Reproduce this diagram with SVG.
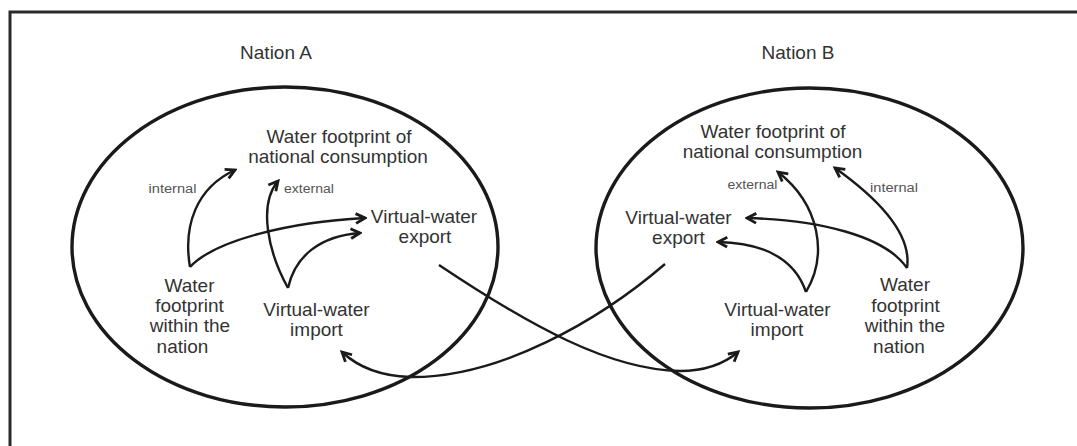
<svg xmlns="http://www.w3.org/2000/svg" width="1077" height="446" viewBox="0 0 1077 446">
<style>
  .t { font-family: "Liberation Sans", Arial, sans-serif; font-size: 19px; fill: #333; text-anchor: middle; }
  .s { font-family: "Liberation Sans", Arial, sans-serif; font-size: 12px; fill: #555; text-anchor: middle; }
  .nation { fill: none; stroke: #1a1a1a; stroke-width: 3.4; }
  .c { fill: none; stroke: #1a1a1a; stroke-width: 2.4; marker-end: url(#arr); }
</style>
<defs>
  <marker id="arr" viewBox="0 0 12 12" refX="10" refY="6" markerWidth="13" markerHeight="13" markerUnits="userSpaceOnUse" orient="auto">
    <path d="M1.5,1.5 L10,6 L1.5,10.5" fill="none" stroke="#1a1a1a" stroke-width="2.6" stroke-linejoin="miter"/>
  </marker>
</defs>
<rect width="1077" height="446" fill="#fff"/>
<path d="M10,446 L10,12 L1077,12" fill="none" stroke="#2a2a2a" stroke-width="3"/>

<g id="nation-a">
  <ellipse class="nation" cx="285" cy="247" rx="213" ry="160"/>
  <text class="t" x="276" y="59">Nation A</text>
</g>
<g id="nation-b">
  <ellipse class="nation" cx="809.5" cy="248" rx="213.5" ry="160"/>
  <text class="t" x="798" y="59">Nation B</text>
</g>

<g id="a-consumption"><text class="t" x="339" y="142.5">Water footprint of</text><text class="t" x="338" y="162.5">national consumption</text></g>
<g id="a-export"><text class="t" x="424" y="223">Virtual-water</text><text class="t" x="425" y="243">export</text></g>
<g id="a-within"><text class="t" x="189.5" y="291.5">Water</text><text class="t" x="189.5" y="311.5">footprint</text><text class="t" x="190" y="332">within the</text><text class="t" x="182.5" y="352.5">nation</text></g>
<g id="a-import"><text class="t" x="316.5" y="315.5">Virtual-water</text><text class="t" x="316.5" y="335.5">import</text></g>

<g id="b-consumption"><text class="t" x="773" y="138">Water footprint of</text><text class="t" x="772.5" y="158">national consumption</text></g>
<g id="b-export"><text class="t" x="678.5" y="223.5">Virtual-water</text><text class="t" x="678.5" y="243.5">export</text></g>
<g id="b-within"><text class="t" x="905" y="291">Water</text><text class="t" x="905.5" y="311.5">footprint</text><text class="t" x="905" y="332">within the</text><text class="t" x="899" y="352.5">nation</text></g>
<g id="b-import"><text class="t" x="777.5" y="315.5">Virtual-water</text><text class="t" x="777" y="335.5">import</text></g>

<g id="connectors">
  <!-- Nation A -->
  <path class="c" d="M190,267 C183,226 196,188 235,170"/>
  <path class="c" d="M190,267 C215,240 290,222 365,218"/>
  <path class="c" d="M288,288 C268,252 258,205 278,181"/>
  <path class="c" d="M288,288 C295,256 320,236 360,233"/>
  <text class="s" x="172.5" y="193" textLength="48" lengthAdjust="spacingAndGlyphs">internal</text>
  <text class="s" x="309" y="193" textLength="50" lengthAdjust="spacingAndGlyphs">external</text>
  <!-- Nation B -->
  <path class="c" d="M907,268 C912,235 880,200 835,168"/>
  <path class="c" d="M907,268 C885,236 820,220 747,218"/>
  <path class="c" d="M806,292 C828,255 820,205 778,172"/>
  <path class="c" d="M806,292 C795,260 765,243 718,242"/>
  <text class="s" x="752.5" y="189" textLength="50" lengthAdjust="spacingAndGlyphs">external</text>
  <text class="s" x="894" y="191.5" textLength="48" lengthAdjust="spacingAndGlyphs">internal</text>
  <!-- Trade flows -->
  <path class="c" d="M439,265 C530,326 610,370 680,371 C705,371 725,363 738,352"/>
  <path class="c" d="M665,264 C600,320 500,378 410,377 C381,376 358,367 342,352"/>
</g>
</svg>
